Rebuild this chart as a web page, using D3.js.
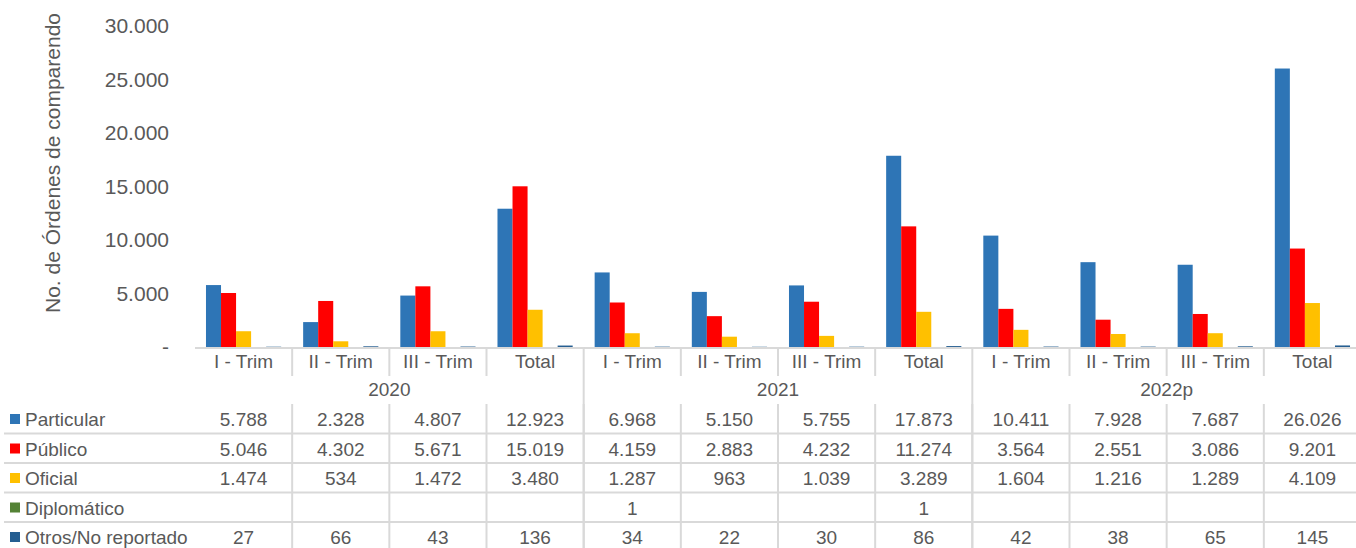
<!DOCTYPE html>
<html>
<head>
<meta charset="utf-8">
<script src="https://cdn.jsdelivr.net/npm/d3@7"></script>
<style>
  body { margin: 0; background: #fff; }
  svg { display: block; font-family: "Liberation Sans", Arial, sans-serif; }
  text { fill: #595959; }
</style>
</head>
<body>
<div id="chart"></div>
<script>
// Data
var categories = ["I - Trim", "II - Trim", "III - Trim", "Total",
                  "I - Trim", "II - Trim", "III - Trim", "Total",
                  "I - Trim", "II - Trim", "III - Trim", "Total"];
var years = ["2020", "2021", "2022p"];
var seriesNames = ["Particular", "Público", "Oficial", "Diplomático", "Otros/No reportado"];
var seriesColors = ["#2E75B6", "#FF0000", "#FFC000", "#548235", "#255E91"];

var particular  = [5788, 2328, 4807, 12923, 6968, 5150, 5755, 17873, 10411, 7928, 7687, 26026];
var publico     = [5046, 4302, 5671, 15019, 4159, 2883, 4232, 11274, 3564, 2551, 3086, 9201];
var oficial     = [1474, 534, 1472, 3480, 1287, 963, 1039, 3289, 1604, 1216, 1289, 4109];
var diplomatico = [null, null, null, null, 1, null, null, 1, null, null, null, null];
var otros       = [27, 66, 43, 136, 34, 22, 30, 86, 42, 38, 65, 145];

var yTicks = [0, 5000, 10000, 15000, 20000, 25000, 30000];

var seriesValues = [particular, publico, oficial, diplomatico, otros];

var W = 1356, H = 548;
var left = 195, right = 1361, zeroY = 347, topY = 26;
var gridColor = "#D9D9D9";

var locale = d3.formatLocale({decimal: ",", thousands: ".", grouping: [3], currency: ["", ""]});
var fmt = locale.format(",d");

var svg = d3.select("#chart").append("svg")
    .attr("width", W)
    .attr("height", H);

var x0 = d3.scaleBand()
    .domain(categories.map(function(d, i) { return i; }))
    .range([left, right])
    .paddingInner(0).paddingOuter(0);

var x1 = d3.scaleBand()
    .domain(d3.range(seriesNames.length))
    .range([0, x0.bandwidth()])
    .paddingInner(0).paddingOuter(0.73);

var y = d3.scaleLinear()
    .domain([0, 30000])
    .range([zeroY, topY]);

// Y axis (no line, no tick marks)
var yAxis = svg.append("g")
    .attr("transform", "translate(" + left + ",0)")
    .call(d3.axisLeft(y)
        .tickValues(yTicks)
        .tickSize(0)
        .tickPadding(26)
        .tickFormat(function(d) { return d === 0 ? "-" : fmt(d); }));
yAxis.select(".domain").remove();
yAxis.selectAll("text")
    .attr("fill", "#595959")
    .style("font-size", "21px")
    .style("font-family", "'Liberation Sans', Arial, sans-serif");

svg.append("text")
    .attr("transform", "translate(60," + 163 + ") rotate(-90)")
    .attr("text-anchor", "middle")
    .style("font-size", "21px")
    .text("No. de Órdenes de comparendo");

// Bars
var groups = svg.selectAll(".grp")
    .data(categories).enter()
    .append("g")
    .attr("class", "grp")
    .attr("transform", function(d, i) { return "translate(" + x0(i) + ",0)"; });

groups.selectAll("rect")
    .data(function(d, i) {
        return seriesValues.map(function(s, k) { return {k: k, v: s[i] || 0}; });
    }).enter()
    .append("rect")
    .attr("x", function(d) { return x1(d.k); })
    .attr("width", x1.bandwidth())
    .attr("y", function(d) { return y(d.v); })
    .attr("height", function(d) { return zeroY - y(d.v); })
    .attr("fill", function(d) { return seriesColors[d.k]; });

// Category axis line
svg.append("line")
    .attr("x1", left).attr("x2", W)
    .attr("y1", zeroY + 1).attr("y2", zeroY + 1)
    .attr("stroke", gridColor).attr("stroke-width", 2);

// Category labels
svg.selectAll(".catLabel")
    .data(categories).enter()
    .append("text")
    .attr("x", function(d, i) { return x0(i) + x0.bandwidth() / 2; })
    .attr("y", 368)
    .attr("text-anchor", "middle")
    .style("font-size", "19px")
    .text(function(d) { return d; });

// Year labels
svg.selectAll(".yearLabel")
    .data(years).enter()
    .append("text")
    .attr("x", function(d, i) { return (x0(i * 4) + x0(i * 4 + 3) + x0.bandwidth()) / 2; })
    .attr("y", 396)
    .attr("text-anchor", "middle")
    .style("font-size", "19px")
    .text(function(d) { return d; });

// Table rows
var rowY = d3.scaleBand()
    .domain(d3.range(seriesNames.length))
    .range([404, 404 + 29.5 * seriesNames.length]);

var bounds = d3.range(1, categories.length);

// Separators in category row
svg.selectAll(".catSep")
    .data(bounds.filter(function(b) { return b % 4 !== 0; })).enter()
    .append("line")
    .attr("x1", function(b) { return x0(b); }).attr("x2", function(b) { return x0(b); })
    .attr("y1", zeroY).attr("y2", 376)
    .attr("stroke", gridColor).attr("stroke-width", 2);

// Year separators (full height)
svg.selectAll(".yearSep")
    .data([4, 8]).enter()
    .append("line")
    .attr("x1", function(b) { return x0(b); }).attr("x2", function(b) { return x0(b); })
    .attr("y1", zeroY).attr("y2", H)
    .attr("stroke", gridColor).attr("stroke-width", 2);

// Table vertical lines
svg.selectAll(".tblSep")
    .data(bounds).enter()
    .append("line")
    .attr("x1", function(b) { return x0(b); }).attr("x2", function(b) { return x0(b); })
    .attr("y1", 404).attr("y2", H)
    .attr("stroke", gridColor).attr("stroke-width", 2);

// Table horizontal lines
svg.selectAll(".tblRow")
    .data(d3.range(1, seriesNames.length)).enter()
    .append("line")
    .attr("x1", 4).attr("x2", W)
    .attr("y1", function(r) { return rowY(r); }).attr("y2", function(r) { return rowY(r); })
    .attr("stroke", gridColor).attr("stroke-width", 2);

// Legend keys and names
var rows = svg.selectAll(".row")
    .data(seriesNames).enter()
    .append("g")
    .attr("transform", function(d, k) { return "translate(0," + rowY(k) + ")"; });

rows.append("rect")
    .attr("x", 10).attr("y", 10)
    .attr("width", 10).attr("height", 10)
    .attr("fill", function(d, k) { return seriesColors[k]; });

rows.append("text")
    .attr("x", 25).attr("y", 22)
    .style("font-size", "19px")
    .text(function(d) { return d; });

rows.each(function(d, k) {
    d3.select(this).selectAll(".val")
        .data(seriesValues[k]).enter()
        .append("text")
        .attr("x", function(v, i) { return x0(i) + x0.bandwidth() / 2; })
        .attr("y", 22)
        .attr("text-anchor", "middle")
        .style("font-size", "19px")
        .text(function(v) { return v == null ? "" : fmt(v); });
});
</script>
</body>
</html>
